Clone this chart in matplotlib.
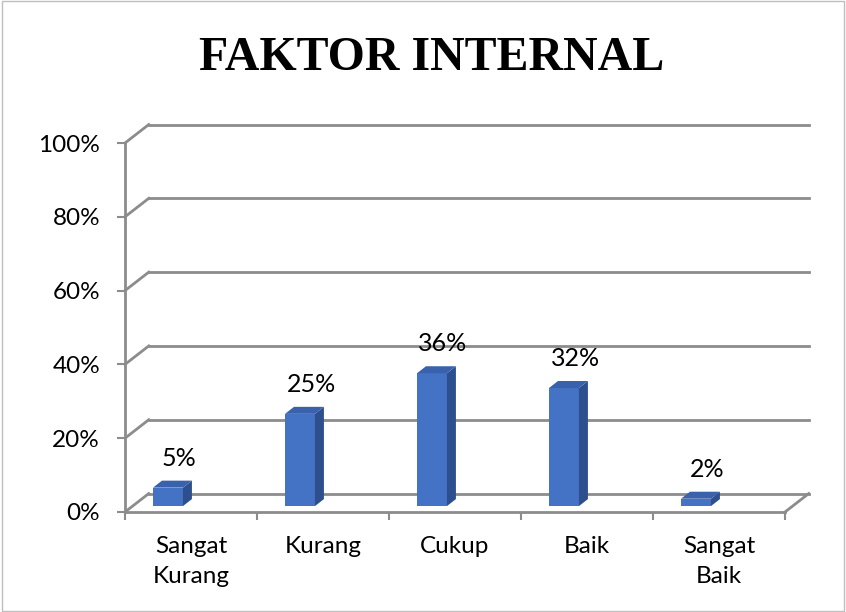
import matplotlib.pyplot as plt
from matplotlib.patches import Rectangle, Polygon

categories = ['Sangat\nKurang', 'Kurang', 'Cukup', 'Baik', 'Sangat\nBaik']
values = [5, 25, 36, 32, 2]
yticks = [0, 20, 40, 60, 80, 100]

# look of the fake 3d box
dx, dz = 0.18, 5.0          # depth of the back wall
bar_left, bar_w = -0.288, 0.227
side_dx, top_dz, base = 0.068, 1.9, 1.6
grid_c = '#8c8c8c'
front_c, side_c, top_c = '#4472C4', '#2D4F8D', '#3A62AC'

plt.rcParams['font.family'] = ['Lato', 'DejaVu Sans']
fig = plt.figure(figsize=(8.46, 6.12), dpi=100)
ax = fig.add_axes([125 / 846, 100 / 612, 660 / 846, 369 / 612])
ax.set_xlim(-0.5, 4.5)
ax.set_ylim(0, 100)
ax.patch.set_visible(False)

# back wall gridlines and left wall diagonals
for v in yticks:
    ax.plot([-0.5 + dx, 4.5 + dx], [v + dz, v + dz], color=grid_c, lw=2, clip_on=False, zorder=1)
    ax.plot([-0.5, -0.5 + dx], [v, v + dz], color=grid_c, lw=2, clip_on=False, zorder=1)
# right side of the floor
ax.plot([4.5, 4.5 + dx], [0, dz], color=grid_c, lw=2, clip_on=False, zorder=1)

# bars
for i, v in enumerate(values):
    x0 = i + bar_left
    ax.add_patch(Rectangle((x0, base), bar_w, v, facecolor=front_c, edgecolor='none', zorder=3))
    ax.add_patch(Polygon([(x0 + bar_w, base), (x0 + bar_w + side_dx, base + top_dz),
                          (x0 + bar_w + side_dx, base + v + top_dz), (x0 + bar_w, base + v)],
                         closed=True, facecolor=side_c, edgecolor='none', zorder=3))
    ax.add_patch(Polygon([(x0, base + v), (x0 + bar_w, base + v),
                          (x0 + bar_w + side_dx, base + v + top_dz), (x0 + side_dx, base + v + top_dz)],
                         closed=True, facecolor=top_c, edgecolor='none', zorder=3))
    ax.annotate(f'{v}%', (x0 + (bar_w + side_dx) / 2 + 0.05, base + v + top_dz),
                xytext=(0, 8), textcoords='offset points', ha='center', va='bottom',
                fontsize=18, color='black', zorder=4)

for s in ['top', 'right']:
    ax.spines[s].set_visible(False)
for s in ['left', 'bottom']:
    ax.spines[s].set_color(grid_c)
    ax.spines[s].set_linewidth(2)
    ax.spines[s].set_zorder(2)

ax.set_yticks(yticks)
ax.set_yticklabels([f'{v}%' for v in yticks], fontsize=17.5)
ax.set_xticks([i - 0.5 for i in range(len(categories) + 1)])
ax.set_xticklabels([])
ax.set_xticks(range(len(categories)), minor=True)
ax.set_xticklabels(categories, minor=True, fontsize=17.5, linespacing=1.55)
ax.tick_params(axis='x', which='major', length=6, width=1.5, color=grid_c)
ax.tick_params(axis='x', which='minor', length=0, pad=17)
ax.tick_params(axis='y', length=6, width=1.5, color=grid_c, pad=12)

fig.text(432 / 846, 1 - 58 / 612, 'FAKTOR INTERNAL', ha='center', va='center',
         fontsize=34.5, fontweight='bold', family='Liberation Serif')

fig.patches.append(Rectangle((0.002, 0.002), 0.996, 0.996, transform=fig.transFigure,
                             fill=False, edgecolor='#bfbfbf', lw=1))

fig.savefig('out.png', dpi=100)
